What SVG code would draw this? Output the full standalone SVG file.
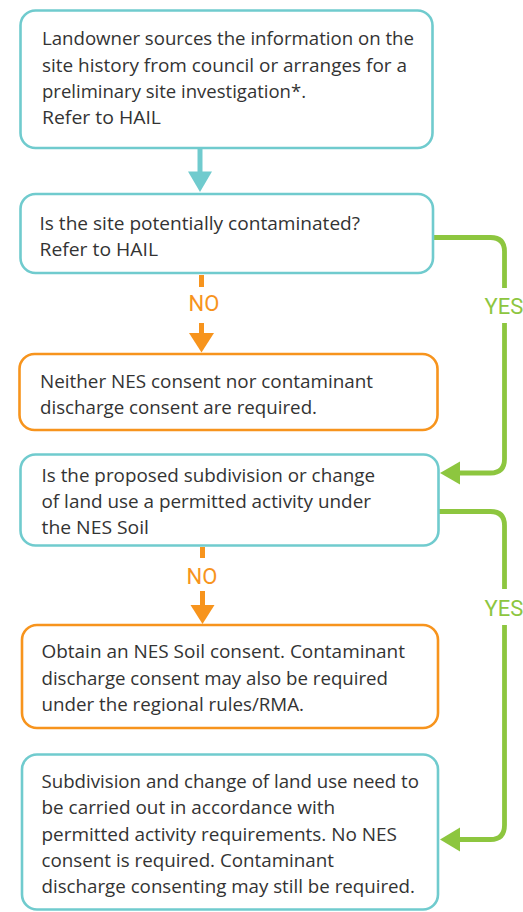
<svg xmlns="http://www.w3.org/2000/svg" width="523" height="912" viewBox="0 0 523 912">
  <style>
    .box { fill: #ffffff; stroke-width: 2.6; }
    .teal { stroke: #70CBCE; }
    .orange { stroke: #F7941D; }
    .t { font-family: "Open Sans", "Liberation Sans", sans-serif; font-size: 18.5px; fill: #333333; }
    .lbl { font-family: Roboto, "Liberation Sans", sans-serif; font-size: 22px; }
    .no { fill: #F7941D; }
    .yes { fill: #8DC63F; }
    .cl { fill: none; stroke-width: 5; }
    .cg { fill: none; stroke: #8DC63F; stroke-width: 4.8; }
  </style>
  <rect width="523" height="912" fill="#ffffff"/>

  <g id="connectors">
    <!-- teal arrow box1 -> box2 -->
    <line class="cl" stroke="#70CBCE" x1="200" y1="149" x2="200" y2="173"/>
    <polygon fill="#70CBCE" points="188,171.5 212,171.5 200,192"/>
    <!-- NO 1 -->
    <line class="cl" stroke="#F7941D" x1="201.5" y1="275" x2="201.5" y2="287"/>
    <line class="cl" stroke="#F7941D" x1="201.5" y1="323" x2="201.5" y2="335"/>
    <polygon fill="#F7941D" points="189,333 214,333 201.5,352.5"/>
    <text class="lbl no" x="204" y="311" text-anchor="middle">NO</text>
    <!-- YES 1 -->
    <path class="cg" d="M433.5,237.5 H490.5 Q504.5,237.5 504.5,251.5 V288"/>
    <path class="cg" d="M504.5,323 V459 Q504.5,473 490.5,473 H458"/>
    <polygon fill="#8DC63F" points="460,461.5 460,484.5 440,473"/>
    <text class="lbl yes" x="504" y="314" text-anchor="middle">YES</text>
    <!-- NO 2 -->
    <line class="cl" stroke="#F7941D" x1="202.5" y1="547" x2="202.5" y2="558"/>
    <line class="cl" stroke="#F7941D" x1="202.5" y1="591" x2="202.5" y2="607"/>
    <polygon fill="#F7941D" points="190.5,605 214.5,605 202.5,624"/>
    <text class="lbl no" x="202" y="584" text-anchor="middle">NO</text>
    <!-- YES 2 -->
    <path class="cg" d="M439,511.5 H490.5 Q504.5,511.5 504.5,525.5 V589"/>
    <path class="cg" d="M504.5,625 V825 Q504.5,839.5 490.5,839.5 H458"/>
    <polygon fill="#8DC63F" points="460,827.5 460,851.5 440,839.5"/>
    <text class="lbl yes" x="504" y="616" text-anchor="middle">YES</text>
  </g>

  <g id="n1">
    <rect class="box teal" x="20.5" y="10.5" width="412" height="137.5" rx="15"/>
    <text class="t" x="42" y="45" textLength="372" lengthAdjust="spacingAndGlyphs">Landowner sources the information on the</text>
    <text class="t" x="42" y="71.5" textLength="365" lengthAdjust="spacingAndGlyphs">site history from council or arranges for a</text>
    <text class="t" x="42" y="98" textLength="264" lengthAdjust="spacingAndGlyphs">preliminary site investigation*.</text>
    <text class="t" x="42" y="124" textLength="119" lengthAdjust="spacingAndGlyphs">Refer to HAIL</text>
  </g>

  <g id="n2">
    <rect class="box teal" x="20.5" y="194" width="412.5" height="79" rx="15"/>
    <text class="t" x="39.5" y="230" textLength="320.5" lengthAdjust="spacingAndGlyphs">Is the site potentially contaminated?</text>
    <text class="t" x="39.5" y="256" textLength="118.5" lengthAdjust="spacingAndGlyphs">Refer to HAIL</text>
  </g>

  <g id="n3">
    <rect class="box orange" x="19.5" y="354" width="418" height="76" rx="15"/>
    <text class="t" x="40" y="387.5" textLength="333" lengthAdjust="spacingAndGlyphs">Neither NES consent nor contaminant</text>
    <text class="t" x="40" y="413.5" textLength="277" lengthAdjust="spacingAndGlyphs">discharge consent are required.</text>
  </g>

  <g id="n4">
    <rect class="box teal" x="20.5" y="454.5" width="418" height="91" rx="15"/>
    <text class="t" x="41.5" y="481.7" textLength="333.5" lengthAdjust="spacingAndGlyphs">Is the proposed subdivision or change</text>
    <text class="t" x="41.5" y="508.3" textLength="329.5" lengthAdjust="spacingAndGlyphs">of land use a permitted activity under</text>
    <text class="t" x="41.5" y="534.3" textLength="107.5" lengthAdjust="spacingAndGlyphs">the NES Soil</text>
  </g>

  <g id="n5">
    <rect class="box orange" x="22" y="625" width="416" height="103" rx="15"/>
    <text class="t" x="41.5" y="658.3" textLength="363.5" lengthAdjust="spacingAndGlyphs">Obtain an NES Soil consent. Contaminant</text>
    <text class="t" x="41.5" y="685" textLength="346.5" lengthAdjust="spacingAndGlyphs">discharge consent may also be required</text>
    <text class="t" x="41.5" y="711" textLength="262.5" lengthAdjust="spacingAndGlyphs">under the regional rules/RMA.</text>
  </g>

  <g id="n6">
    <rect class="box teal" x="22" y="754.5" width="416" height="155" rx="15"/>
    <text class="t" x="41.5" y="788.3" textLength="377.5" lengthAdjust="spacingAndGlyphs">Subdivision and change of land use need to</text>
    <text class="t" x="41.5" y="814.3" textLength="293.5" lengthAdjust="spacingAndGlyphs">be carried out in accordance with</text>
    <text class="t" x="41.5" y="841.3" textLength="355.5" lengthAdjust="spacingAndGlyphs">permitted activity requirements. No NES</text>
    <text class="t" x="41.5" y="866.7" textLength="292.5" lengthAdjust="spacingAndGlyphs">consent is required. Contaminant</text>
    <text class="t" x="41.5" y="892.7" textLength="373.5" lengthAdjust="spacingAndGlyphs">discharge consenting may still be required.</text>
  </g>
</svg>
